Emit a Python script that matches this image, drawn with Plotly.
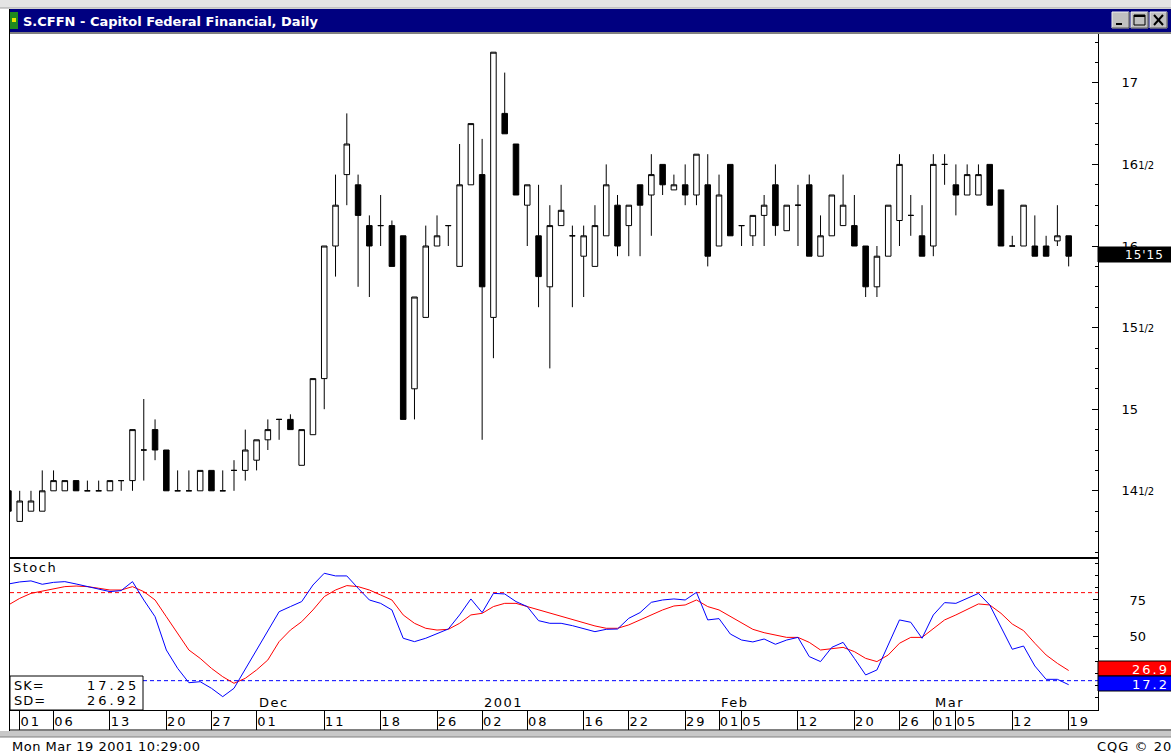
import plotly.graph_objects as go

W, H = 1171, 754
FONT = "DejaVu Sans"

# ---------------- data ----------------
trading_days = {
    (2000, 10): [31],
    (2000, 11): [1, 2, 3, 6, 7, 8, 9, 10, 13, 14, 15, 16, 17, 20, 21, 22, 24, 27, 28, 29, 30],
    (2000, 12): [1, 4, 5, 6, 7, 8, 11, 12, 13, 14, 15, 18, 19, 20, 21, 22, 26, 27, 28, 29],
    (2001, 1): [2, 3, 4, 5, 8, 9, 10, 11, 12, 16, 17, 18, 19, 22, 23, 24, 25, 26, 29, 30, 31],
    (2001, 2): [1, 2, 5, 6, 7, 8, 9, 12, 13, 14, 15, 16, 20, 21, 22, 23, 26, 27, 28],
    (2001, 3): [1, 2, 5, 6, 7, 8, 9, 12, 13, 14, 15, 16, 19],
}
dates = [f"{y:04d}-{m:02d}-{d:02d}" for (y, m), days in trading_days.items() for d in days]

opens = [14.5, 14.3125, 14.375, 14.375, 14.5, 14.5, 14.5625, 14.5, 14.5, 14.5, 14.5625,
         14.5625, 14.75, 14.875, 14.75, 14.5, 14.5, 14.5, 14.625, 14.5, 14.625,
         14.625, 14.6875, 14.8125, 14.9375, 14.9375, 14.65625, 14.84375, 15.1875, 16.0, 16.4375,
         16.375, 16.125, 16.125, 16.125, 16.0625, 15.125, 15.5625, 16.0, 16.125, 15.875,
         16.375, 16.4375, 15.5625, 16.8125, 16.625, 16.25, 16.0625, 15.75, 16.125, 16.0625,
         15.9375, 15.875, 16.0625, 16.25, 16.125, 16.375, 16.3125, 16.5, 16.34375, 16.375,
         16.3125, 16.375, 16.0, 16.5, 16.125, 16.0625, 16.1875, 16.375, 16.09375, 16.25,
         16.375, 15.9375, 16.0625, 16.125, 16.125, 16.0, 15.75, 15.9375, 16.15625, 16.1875,
         16.0625, 16.0, 16.5, 16.375, 16.3125, 16.3125, 16.5, 16.34375, 16.0, 16.0,
         16.0, 16.0, 16.03125, 16.0625]
highs = [14.5, 14.5, 14.5, 14.625, 14.625, 14.5625, 14.5625, 14.5625, 14.5625, 14.5625, 14.5625,
         14.875, 15.0625, 14.9375, 14.75, 14.625, 14.625, 14.625, 14.625, 14.625, 14.6875,
         14.875, 14.8125, 14.9375, 14.9375, 14.96875, 14.875, 15.1875, 16.0, 16.4375, 16.8125,
         16.4375, 16.1875, 16.3125, 16.15625, 16.0625, 15.6875, 16.125, 16.1875, 16.125, 16.625,
         16.75, 16.65625, 17.1875, 17.0625, 16.625, 16.375, 16.375, 16.25, 16.375, 16.125,
         16.125, 16.25, 16.5, 16.3125, 16.25, 16.375, 16.5625, 16.5, 16.4375, 16.5,
         16.5625, 16.5625, 16.4375, 16.5, 16.125, 16.1875, 16.3125, 16.5, 16.25, 16.375,
         16.4375, 16.1875, 16.3125, 16.4375, 16.3125, 16.0, 16.0, 16.25, 16.5625, 16.3125,
         16.25, 16.5625, 16.5625, 16.5, 16.5, 16.5, 16.5, 16.34375, 16.0625, 16.25,
         16.1875, 16.0625, 16.25, 16.0625]
lows = [14.375, 14.3125, 14.375, 14.375, 14.5, 14.5, 14.5, 14.5, 14.5, 14.5, 14.5,
        14.5, 14.5625, 14.6875, 14.5, 14.5, 14.5, 14.5, 14.5, 14.5, 14.5,
        14.5625, 14.625, 14.75, 14.8125, 14.875, 14.65625, 14.84375, 15.0, 15.8125, 16.25,
        15.75, 15.6875, 16.0, 15.875, 14.9375, 14.9375, 15.5625, 16.0, 16.0, 15.875,
        16.375, 14.8125, 15.3125, 16.6875, 16.3125, 16.0, 15.625, 15.25, 16.125, 15.625,
        15.6875, 15.875, 16.0625, 15.9375, 15.9375, 15.9375, 16.0625, 16.3125, 16.34375, 16.25,
        16.25, 15.875, 16.0, 16.0625, 16.0, 16.0, 16.0, 16.0625, 16.09375, 16.0,
        15.9375, 15.9375, 16.0625, 16.125, 16.0, 15.6875, 15.6875, 15.9375, 16.0, 16.0625,
        15.9375, 15.9375, 16.375, 16.1875, 16.3125, 16.3125, 16.25, 16.0, 16.0, 16.0,
        15.9375, 15.9375, 16.0, 15.875]
closes = [14.375, 14.4375, 14.4375, 14.5, 14.5625, 14.5625, 14.5, 14.5, 14.5, 14.5625, 14.5625,
          14.875, 14.75, 14.75, 14.5, 14.5, 14.5, 14.625, 14.5, 14.5, 14.625,
          14.75, 14.8125, 14.875, 14.9375, 14.875, 14.875, 15.1875, 16.0, 16.25, 16.625,
          16.1875, 16.0, 16.125, 15.875, 14.9375, 15.6875, 16.0, 16.0625, 16.125, 16.375,
          16.75, 15.75, 17.1875, 16.6875, 16.3125, 16.375, 15.8125, 16.125, 16.21875, 16.0625,
          16.0625, 16.125, 16.375, 16.0, 16.25, 16.25, 16.4375, 16.375, 16.375, 16.3125,
          16.5625, 15.9375, 16.3125, 16.0625, 16.125, 16.1875, 16.25, 16.125, 16.25, 16.25,
          15.9375, 16.0625, 16.3125, 16.25, 16.0, 15.75, 15.9375, 16.25, 16.5, 16.1875,
          15.9375, 16.5, 16.5, 16.3125, 16.4375, 16.4375, 16.25, 16.0, 16.0, 16.25,
          15.9375, 15.9375, 16.0625, 15.9375]

stoch_k = [85.9, 87.3, 88.0, 85.7, 87.0, 87.5, 85.9, 84.0, 82.3, 80.7, 81.4,
           87.5, 75.0, 63.6, 40.9, 28.4, 18.6, 19.3, 14.8, 9.1, 14.8,
           27.7, 40.9, 54.1, 67.0, 70.5, 73.9, 85.2, 93.2, 91.4, 91.4,
           83.0, 75.0, 72.7, 68.2, 48.9, 46.6, 48.9, 52.3, 55.2, 64.8,
           75.7, 66.4, 79.5, 79.1, 73.9, 70.5, 60.9, 59.1, 59.1, 57.5,
           55.7, 53.4, 55.0, 55.2, 62.5, 66.4, 73.4, 75.0, 75.7, 75.0,
           80.2, 61.4, 62.3, 51.8, 47.7, 46.4, 48.4, 44.8, 47.7, 49.5,
           36.4, 33.0, 42.7, 46.1, 35.2, 23.9, 27.3, 44.3, 61.4, 59.8,
           48.9, 64.8, 73.2, 72.7, 76.1, 79.5, 71.6, 56.8, 41.4, 43.6,
           30.0, 20.9, 20.9, 17.25]
stoch_d = [71.6, 76.1, 79.5, 81.1, 82.3, 84.1, 84.5, 84.1, 83.0, 81.8, 81.8,
           84.1, 80.7, 75.0, 63.6, 52.3, 40.9, 35.2, 28.4, 22.7, 18.2,
           21.6, 27.3, 34.1, 46.6, 54.5, 60.2, 68.2, 77.3, 81.8, 84.8,
           84.1, 81.8, 78.4, 75.0, 64.8, 59.1, 55.7, 54.5, 55.0, 59.1,
           64.8, 65.9, 70.5, 72.7, 72.7, 70.5, 68.2, 65.9, 63.6, 61.4,
           59.5, 57.3, 55.7, 55.7, 58.0, 61.4, 64.8, 68.2, 70.9, 71.6,
           75.0, 70.5, 68.2, 63.6, 59.1, 55.0, 52.7, 51.1, 49.5, 49.5,
           46.1, 40.9, 42.0, 42.7, 39.8, 35.2, 33.0, 37.5, 45.5, 49.5,
           49.5, 55.7, 61.4, 64.8, 68.6, 72.3, 71.6, 65.9, 58.6, 54.1,
           45.5, 37.5, 31.8, 26.92]
overbought, oversold = 80, 20

labeled_dates = ["2000-11-01", "2000-11-06", "2000-11-13", "2000-11-20", "2000-11-27",
                 "2000-12-01", "2000-12-11", "2000-12-18", "2000-12-26", "2001-01-02",
                 "2001-01-08", "2001-01-16", "2001-01-22", "2001-01-29", "2001-02-01",
                 "2001-02-05", "2001-02-12", "2001-02-20", "2001-02-26", "2001-03-01",
                 "2001-03-05", "2001-03-12", "2001-03-19"]
month_labels = [("2000-12-01", "Dec"), ("2001-01-02", "2001"), ("2001-02-01", "Feb"), ("2001-03-01", "Mar")]
price_ticks = [14.5, 15.0, 15.5, 16.0, 16.5, 17.0]
stoch_ticks = [50, 75]

title_text = "S.CFFN - Capitol Federal Financial, Daily"
status_text = "Mon Mar 19 2001 10:29:00"
copyright_text = "CQG © 2001"

# ---------------- helpers ----------------
xs = list(range(len(dates)))


def px(x):
    return x / W


def py(y):
    return 1 - y / H


def sp(text, ls):
    return f'<span style="letter-spacing:{ls}px">{text}</span>'


def frac_label(v):
    whole = int(v)
    return f"{whole}<span style='font-size:10px'>1/2</span>" if v - whole > 0 else f"{whole}"


def ann(x, y, text, size=13, color="black", xanchor="left", **kw):
    return dict(x=px(x), y=py(y), xref="paper", yref="paper", text=text, showarrow=False,
                xanchor=xanchor, yanchor="middle", font=dict(family=FONT, size=size, color=color), **kw)


def rect(x0, y0, x1, y1, fill, line=None, lw=1, layer="above"):
    return dict(type="rect", xref="paper", yref="paper", x0=px(x0), x1=px(x1), y0=py(y0), y1=py(y1),
                fillcolor=fill, line=dict(color=line or fill, width=lw if line else 0), layer=layer)


def hline(x0, x1, y, color, w=1):
    return dict(type="line", xref="paper", yref="paper", x0=px(x0), x1=px(x1), y0=py(y), y1=py(y),
                line=dict(color=color, width=w), layer="above")


def vline(x, y0, y1, color, w=1):
    return dict(type="line", xref="paper", yref="paper", x0=px(x), x1=px(x), y0=py(y0), y1=py(y1),
                line=dict(color=color, width=w), layer="above")


# geometry (pixels)
X0, X1 = 10, 1098
MAIN_TOP, MAIN_BOT = 34, 557
ST_TOP, ST_BOT = 559, 710
xrange_ = [0.14, 96.6]

fig = go.Figure()
fig.add_trace(go.Candlestick(
    x=xs, open=opens, high=highs, low=lows, close=closes,
    increasing=dict(line=dict(color="black", width=1), fillcolor="white"),
    decreasing=dict(line=dict(color="black", width=1), fillcolor="black"),
    whiskerwidth=0, xaxis="x", yaxis="y", hoverinfo="skip", showlegend=False))
fig.add_trace(go.Scatter(x=xs, y=stoch_d, mode="lines", line=dict(color="#ff0000", width=1),
                         xaxis="x2", yaxis="y2", hoverinfo="skip", showlegend=False))
fig.add_trace(go.Scatter(x=xs, y=stoch_k, mode="lines", line=dict(color="#0000ff", width=1),
                         xaxis="x2", yaxis="y2", hoverinfo="skip", showlegend=False))

tickvals_x = [dates.index(d) for d in labeled_dates]
ticktext_x = [sp(d[-2:], 2) for d in labeled_dates]

axis_font = dict(family=FONT, size=13, color="black")
fig.update_layout(
    width=W, height=H, margin=dict(l=0, r=0, t=0, b=0),
    paper_bgcolor="white", plot_bgcolor="white", showlegend=False,
    xaxis=dict(domain=[px(X0), px(X1)], range=xrange_, anchor="y", showticklabels=False, ticks="",
               showgrid=False, zeroline=False, showline=True, mirror=True, linecolor="black",
               linewidth=1, rangeslider=dict(visible=False), fixedrange=True),
    yaxis=dict(domain=[py(MAIN_BOT), py(MAIN_TOP)], range=[16 - (MAIN_BOT - 246) / 163.2, 16 + (246 - MAIN_TOP) / 163.2],
               anchor="x", side="right", showgrid=False, zeroline=False, showline=True, mirror=True,
               linecolor="black", linewidth=1, tickvals=price_ticks, ticktext=[frac_label(v) for v in price_ticks],
               ticks="inside", ticklen=6, tickcolor="black", tickfont=axis_font, ticklabelstandoff=20,
               minor=dict(dtick=0.125, tick0=14, ticks="inside", ticklen=3, tickcolor="black", showgrid=False),
               fixedrange=True),
    xaxis2=dict(domain=[px(X0), px(X1)], range=xrange_, anchor="y2", showgrid=False, zeroline=False,
                showline=True, mirror=True, linecolor="black", linewidth=1,
                tickvals=tickvals_x, ticktext=ticktext_x, ticks="outside", ticklen=19, tickcolor="black",
                tickfont=axis_font, ticklabelshift=11, ticklabelstandoff=-20, fixedrange=True),
    yaxis2=dict(domain=[py(ST_BOT), py(ST_TOP)], range=[0, (ST_BOT - ST_TOP) / 1.467], anchor="x2", side="right",
                showgrid=False, zeroline=False, showline=True, mirror=True, linecolor="black", linewidth=1,
                tickvals=stoch_ticks, ticktext=[str(v) for v in stoch_ticks], ticks="inside", ticklen=5,
                tickcolor="black", tickfont=axis_font, ticklabelstandoff=28,
                minor=dict(dtick=25 / 3, tick0=0, ticks="inside", ticklen=3, tickcolor="black", showgrid=False),
                fixedrange=True),
)

shapes = [
    # overbought / oversold reference lines
    dict(type="line", xref="x2 domain", yref="y2", x0=0, x1=1, y0=overbought, y1=overbought,
         line=dict(color="#ff0000", width=1, dash="4px,3px"), layer="below"),
    dict(type="line", xref="x2 domain", yref="y2", x0=0, x1=1, y0=oversold, y1=oversold,
         line=dict(color="#0000ff", width=1, dash="4px,3px"), layer="below"),
    # window chrome
    rect(0, 0, W, 8, "#e4e4e4"),
    hline(0, W, 8, "#a0a0a0"),
    rect(9, 9, W, 32, "#000080"),
    rect(10, 12, 18, 29, "#1f8a1f"),
    rect(12, 18, 16, 22, "#e8e800"),
    hline(9, W, 33, "#808080", 2),
    vline(9.5, 9, 731, "black"),
    # minimise / maximise / close buttons
    rect(1112, 12, 1129, 28, "#c0c0c0", "#f0f0f0"),
    rect(1131, 12, 1148, 28, "#c0c0c0", "#f0f0f0"),
    rect(1150, 12, 1167, 28, "#c0c0c0", "#f0f0f0"),
    hline(1112, 1129, 28, "#404040"), vline(1129, 12, 28, "#404040"),
    hline(1131, 1148, 28, "#404040"), vline(1148, 12, 28, "#404040"),
    hline(1150, 1167, 28, "#404040"), vline(1167, 12, 28, "#404040"),
    hline(1116, 1122, 24, "black", 2),
    dict(type="rect", xref="paper", yref="paper", x0=px(1134), x1=px(1145), y0=py(25), y1=py(15),
         line=dict(color="black", width=1), fillcolor="rgba(0,0,0,0)", layer="above"),
    hline(1134, 1145, 16, "black", 2),
    dict(type="line", xref="paper", yref="paper", x0=px(1154), x1=px(1163), y0=py(15), y1=py(25),
         line=dict(color="black", width=2), layer="above"),
    dict(type="line", xref="paper", yref="paper", x0=px(1154), x1=px(1163), y0=py(25), y1=py(15),
         line=dict(color="black", width=2), layer="above"),
    # separator between panels
    hline(X0, X1, 558, "black", 1),
    # bottom frame
    hline(9, W, 730, "black", 1),
    rect(0, 731, W, 737, "#c8c8c8"),
    hline(0, W, 737, "#808080", 1),
    # SK / SD box
    rect(10, 676, 143, 710, "white", "black", 1),
    # last value boxes
    rect(X1, 247, W + 2, 262, "black", "black", 1),
    rect(X1, 661, W + 2, 676, "#ff0000", "black", 1),
    rect(X1, 676, W + 2, 691, "#0000ff", "black", 1),
]
fig.update_layout(shapes=shapes)

last_c = closes[-1]
price_box = f"{int(last_c)}'{round((last_c - int(last_c)) * 16):02d}"

annotations = [
    ann(21, 21, f"<b>{title_text}</b>", size=13, color="white"),
    ann(11, 567, sp("Stoch", 1.5)),
    ann(12, 685, sp("SK=", 1)),
    ann(141, 685, sp(f"{stoch_k[-1]:.2f}", 3), xanchor="right"),
    ann(12, 700, sp("SD=", 1)),
    ann(141, 700, sp(f"{stoch_d[-1]:.2f}", 3), xanchor="right"),
    ann(1123, 255, sp(price_box, 1), color="white", size=12),
    ann(1130, 669, sp(f"{stoch_d[-1]:.1f}", 2), color="white"),
    ann(1130, 684, sp(f"{stoch_k[-1]:.1f}", 2), color="white"),
    ann(10, 746, sp(status_text, 0.5)),
    ann(1095, 746, sp(copyright_text, 1)),
]
for d, txt in month_labels:
    annotations.append(dict(x=dates.index(d), y=py(702), xref="x2", yref="paper", text=sp(txt, 1.5),
                            showarrow=False, xanchor="left", yanchor="middle", xshift=0,
                            font=dict(family=FONT, size=13, color="black")))
fig.update_layout(annotations=annotations)

fig.write_html("out.html", config={"displayModeBar": False, "staticPlot": True},
               post_script="document.body.style.margin='0';document.body.style.overflow='hidden';")
